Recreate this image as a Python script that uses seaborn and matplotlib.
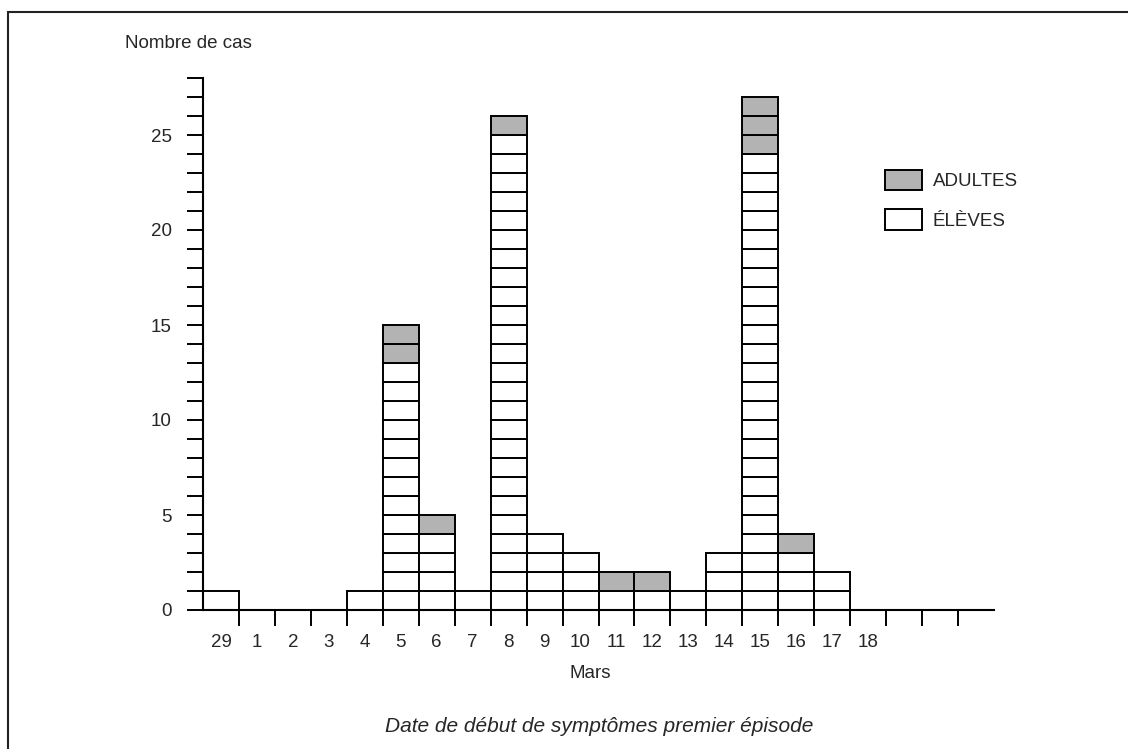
import matplotlib
matplotlib.use("Agg")
import matplotlib.pyplot as plt
from matplotlib.patches import Patch, Rectangle
import seaborn as sns
import pandas as pd

# Jours (29 février puis mars), trois cases vides en fin d'axe
jours = ["29", "1", "2", "3", "4", "5", "6", "7", "8", "9", "10", "11",
         "12", "13", "14", "15", "16", "17", "18", "", "", ""]
eleves = [1, 0, 0, 0, 1, 13, 4, 1, 25, 4, 3, 1, 1, 1, 3, 24, 3, 2, 0, 0, 0, 0]
adultes = [0, 0, 0, 0, 0, 2, 1, 0, 1, 0, 0, 1, 1, 0, 0, 3, 1, 0, 0, 0, 0, 0]

couleurs = {"ÉLÈVES": "white", "ADULTES": "#b3b3b3"}

# une ligne par cas : une case par cas, empilées (élèves en bas)
cases = []
for i, jour in enumerate(jours):
    for k in range(eleves[i]):
        cases.append({"pos": i, "niveau": k, "groupe": "ÉLÈVES"})
    for k in range(adultes[i]):
        cases.append({"pos": i, "niveau": eleves[i] + k, "groupe": "ADULTES"})
df = pd.DataFrame(cases)

sns.set_style("white")
plt.rcParams["font.family"] = ["Liberation Sans", "DejaVu Sans"]
plt.rcParams["font.size"] = 13.5

fig = plt.figure(figsize=(11.28, 7.49), dpi=100)
ax = fig.add_axes([203 / 1128, 1 - 610 / 749, 791 / 1128, 532 / 749])

ax.bar(df["pos"] + 0.5, 1, bottom=df["niveau"], width=1,
       color=[couleurs[g] for g in df["groupe"]],
       edgecolor="black", linewidth=1.4, zorder=2)

ax.set_xlim(0, len(jours))
ax.set_ylim(0, 28)
sns.despine(ax=ax, top=True, right=True)
for s in ["left", "bottom"]:
    ax.spines[s].set_linewidth(1.5)
    ax.spines[s].set_color("black")

ax.set_yticks(range(0, 29))
ax.set_yticklabels([str(v) if v % 5 == 0 and v <= 25 else "" for v in range(0, 29)])
ax.tick_params(axis="y", direction="out", length=11.5, width=1.4,
               color="black", pad=11, labelsize=13.5, left=True)

ax.set_xticks(range(1, len(jours)))
ax.set_xticklabels([])
ax.tick_params(axis="x", which="major", direction="out", length=11.5,
               width=1.4, color="black", bottom=True)
ax.set_xticks([i + 0.5 for i in range(len(jours))], minor=True)
ax.set_xticklabels(jours, minor=True)
ax.tick_params(axis="x", which="minor", length=0, pad=17, labelsize=13.5)

fig.text(125 / 1128, 1 - 43 / 749, "Nombre de cas", ha="left", va="center",
         fontsize=13.5)
fig.text(590 / 1128, 1 - 673 / 749, "Mars", ha="center", va="center",
         fontsize=13.5)
fig.text(385 / 1128, 1 - 727 / 749, "Date de début de symptômes premier épisode",
         ha="left", va="center", fontsize=15, style="italic")

handles = [Patch(facecolor=couleurs["ADULTES"], edgecolor="black", linewidth=1.4),
           Patch(facecolor=couleurs["ÉLÈVES"], edgecolor="black", linewidth=1.4)]
fig.legend(handles, ["ADULTES", "ÉLÈVES"], loc="upper left",
           bbox_to_anchor=(885 / 1128, 1 - 170 / 749), frameon=False,
           borderpad=0, borderaxespad=0, handlelength=1.95, handleheight=1.3,
           handletextpad=0.6, labelspacing=1.0, fontsize=13.5)

# cadre de la figure (seuls les bords gauche et haut sont visibles)
fig.patches.append(Rectangle((8 / 1128, -0.1), 1.2, 1 - 12 / 749 + 0.1,
                             transform=fig.transFigure, fill=False,
                             edgecolor="#222222", linewidth=1.5))

fig.savefig("out.png", dpi=100)
